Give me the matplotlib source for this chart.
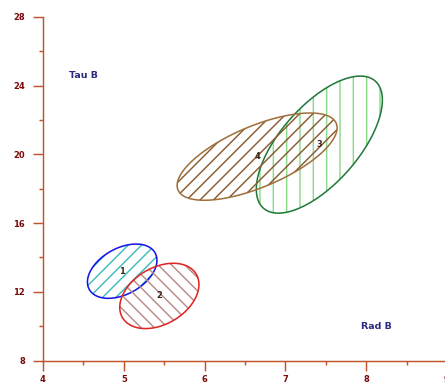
import numpy as np
import matplotlib
matplotlib.use("Agg")
import matplotlib.pyplot as plt
from matplotlib.patches import Polygon

# group ellipses: centre, spread in x and y, correlation
groups = ["1", "2", "3", "4"]
cx = [4.98, 5.44, 7.42, 6.65]
cy = [13.2, 11.76, 20.57, 19.87]
sx = [0.43, 0.49, 0.78, 0.99]
sy = [1.58, 1.9, 3.99, 2.54]
rho = [0.4, 0.35, 0.65, 0.66]

edge_colors = ["#1414e6", "#e02424", "#1f7a3a", "#a0703c"]
hatch_colors = ["#3cbcbc", "#b88a88", "#8ed88e", "#8a5a30"]
hatches = ["//", "\\\\", "|", "//"]

xticks = [4, 5, 6, 7, 8, 9]
yticks = [8, 12, 16, 20, 24, 28]

axis_col = "#c0522c"
tick_col = "#7a0a0a"
dpi = 80

plt.rcParams["hatch.linewidth"] = 1.3

fig = plt.figure(figsize=(445 / dpi, 386 / dpi), dpi=dpi)
ax = fig.add_axes([43 / 445, 1 - 360.5 / 386, 404 / 445, (360.5 - 17) / 386])

t = np.linspace(0, 2 * np.pi, 200)
for i in range(len(groups)):
    xs = cx[i] + sx[i] * np.cos(t)
    ys = cy[i] + sy[i] * (rho[i] * np.cos(t) + np.sqrt(1 - rho[i] ** 2) * np.sin(t))
    pts = np.column_stack([xs, ys])
    # hatch drawn in its own colour, outline on top
    ax.add_patch(Polygon(pts, closed=True, fill=False, hatch=hatches[i],
                         edgecolor=hatch_colors[i], linewidth=0))
    ax.add_patch(Polygon(pts, closed=True, fill=False,
                         edgecolor=edge_colors[i], linewidth=1.4))
    ax.text(cx[i], cy[i], groups[i], ha="center", va="center",
            fontsize=7.5, fontweight="bold", color="#3a2a1a")

ax.text(4.32, 24.6, "Tau B", fontsize=8.5, fontweight="bold", color="#2a2a80",
        ha="left", va="center")
ax.text(7.93, 10.0, "Rad B", fontsize=8.5, fontweight="bold", color="#2a2a80",
        ha="left", va="center")

ax.set_xlim(4, 9)
ax.set_ylim(8, 28)
ax.set_xticks(xticks)
ax.set_yticks(yticks)
ax.set_xticks([4.5, 5.5, 6.5, 7.5, 8.5], minor=True)
ax.set_yticks([10, 14, 18, 22, 26], minor=True)

for s in ["top", "right"]:
    ax.spines[s].set_visible(False)
for s in ["left", "bottom"]:
    ax.spines[s].set_color(axis_col)
    ax.spines[s].set_linewidth(1.3)

ax.tick_params(which="major", direction="out", length=9, width=1.3,
               color=axis_col, labelcolor=tick_col, labelsize=7.5)
ax.tick_params(axis="y", which="major", pad=7)
ax.tick_params(axis="x", which="major", pad=4)
ax.tick_params(which="minor", direction="out", length=4, width=1.3,
               color=axis_col)
for lab in ax.get_xticklabels() + ax.get_yticklabels():
    lab.set_fontweight("bold")

fig.savefig("out.png", dpi=dpi)
